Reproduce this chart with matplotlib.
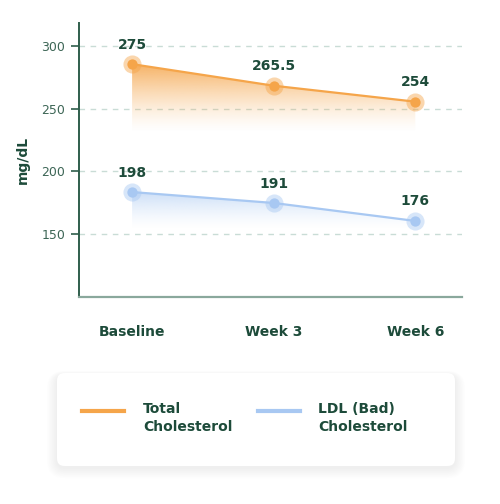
import numpy as np
import matplotlib
matplotlib.use("Agg")
import matplotlib.pyplot as plt
from matplotlib.patches import FancyBboxPatch
from matplotlib.colors import to_rgb

# data
weeks = ["Baseline", "Week 3", "Week 6"]
total_vals = [285.5, 268.3, 255.6]
ldl_vals = [183.6, 174.9, 160.6]
total_labels = ["275", "265.5", "254"]
ldl_labels = ["198", "191", "176"]
yticks = [150, 200, 250, 300]

ORANGE = "#f5a54a"
BLUE = "#a8c8f2"
DARK = "#1d4b3a"
AXIS = "#2f5e4c"
TICKTXT = "#3d6656"
GRID = "#c9dcd6"

plt.rcParams["font.family"] = ["DejaVu Sans"]

fig = plt.figure(figsize=(5, 5.04), dpi=100)
ax = fig.add_axes([0.158, 0.4107, 0.766, 0.543])
x = np.arange(len(weeks))


def gradient_fill(ax, xs, ys, color, base, amax):
    # area under the line, fading out towards the bottom
    poly = ax.fill_between(xs, ys, base, color="none", lw=0)
    r, g, b = to_rgb(color)
    n = 256
    img = np.zeros((n, 1, 4))
    img[:, 0, :3] = (r, g, b)
    img[:, 0, 3] = amax * np.linspace(0.0, 1.0, n) ** 1.4
    im = ax.imshow(img, aspect="auto", origin="lower",
                   extent=[xs[0], xs[-1], base, max(ys)], zorder=1)
    im.set_clip_path(poly.get_paths()[0], transform=ax.transData)


gradient_fill(ax, x, total_vals, ORANGE, 231, 0.85)
gradient_fill(ax, x, ldl_vals, BLUE, 154, 0.6)

for vals, labels, col in [(total_vals, total_labels, ORANGE), (ldl_vals, ldl_labels, BLUE)]:
    ax.plot(x, vals, color=col, lw=1.6, zorder=3)
    ax.scatter(x, vals, s=170, color=col, alpha=0.45, lw=0, zorder=4)
    ax.scatter(x, vals, s=55, color=col, lw=0, zorder=5)
    for xi, v, t in zip(x, vals, labels):
        ax.annotate(t, (xi, v), xytext=(0, 14), textcoords="offset points",
                    ha="center", va="center", fontsize=10, fontweight="bold", color=DARK)

ax.set_xlim(-0.375, 2.33)
ax.set_ylim(100, 318)
ax.set_yticks(yticks)
ax.set_xticks(x)
ax.set_xticklabels(weeks, fontsize=10, fontweight="bold", color=DARK)
ax.tick_params(axis="x", length=0, pad=20)
ax.tick_params(axis="y", length=6, width=1.2, color=AXIS, labelsize=9, labelcolor=TICKTXT, pad=4)
for yt in yticks:
    ax.axhline(yt, color=GRID, lw=1, ls=(0, (4, 4)), zorder=0)
for s in ["top", "right"]:
    ax.spines[s].set_visible(False)
ax.spines["left"].set_color(AXIS)
ax.spines["bottom"].set_color("#8aa89c")
ax.spines["left"].set_linewidth(1.4)
ax.spines["bottom"].set_linewidth(1.6)
ax.set_ylabel("mg/dL", fontsize=10, fontweight="bold", color=DARK, labelpad=8)

# legend card with soft shadow
bx, by, bw, bh = 57 / 500, 1 - 466 / 504, 398 / 500, 93 / 504
for i in range(16, 0, -1):
    d = i * 0.0013
    sh = FancyBboxPatch((bx - d, by - 0.004 - d), bw + 2 * d, bh + 2 * d * 0.7,
                        boxstyle="round,pad=0,rounding_size=%f" % (0.015 + d),
                        transform=fig.transFigure, fc="black", ec="none", alpha=0.004, zorder=0)
    fig.patches.append(sh)
card = FancyBboxPatch((bx, by), bw, bh, boxstyle="round,pad=0,rounding_size=0.015",
                      transform=fig.transFigure, fc="white", ec="none", zorder=1)
fig.patches.append(card)

leg_items = [("Total\nCholesterol", ORANGE, 82, 143), ("LDL (Bad)\nCholesterol", BLUE, 258, 318)]
ly = 1 - 411 / 504
for name, col, lx, tx in leg_items:
    fig.add_artist(plt.Line2D([lx / 500, (lx + 42) / 500], [ly, ly],
                              color=col, lw=3, transform=fig.transFigure))
    fig.text(tx / 500, 1 - 418 / 504, name, fontsize=10, fontweight="bold", color=DARK,
             va="center", ha="left", linespacing=1.35)

fig.savefig("out.png", dpi=100)
